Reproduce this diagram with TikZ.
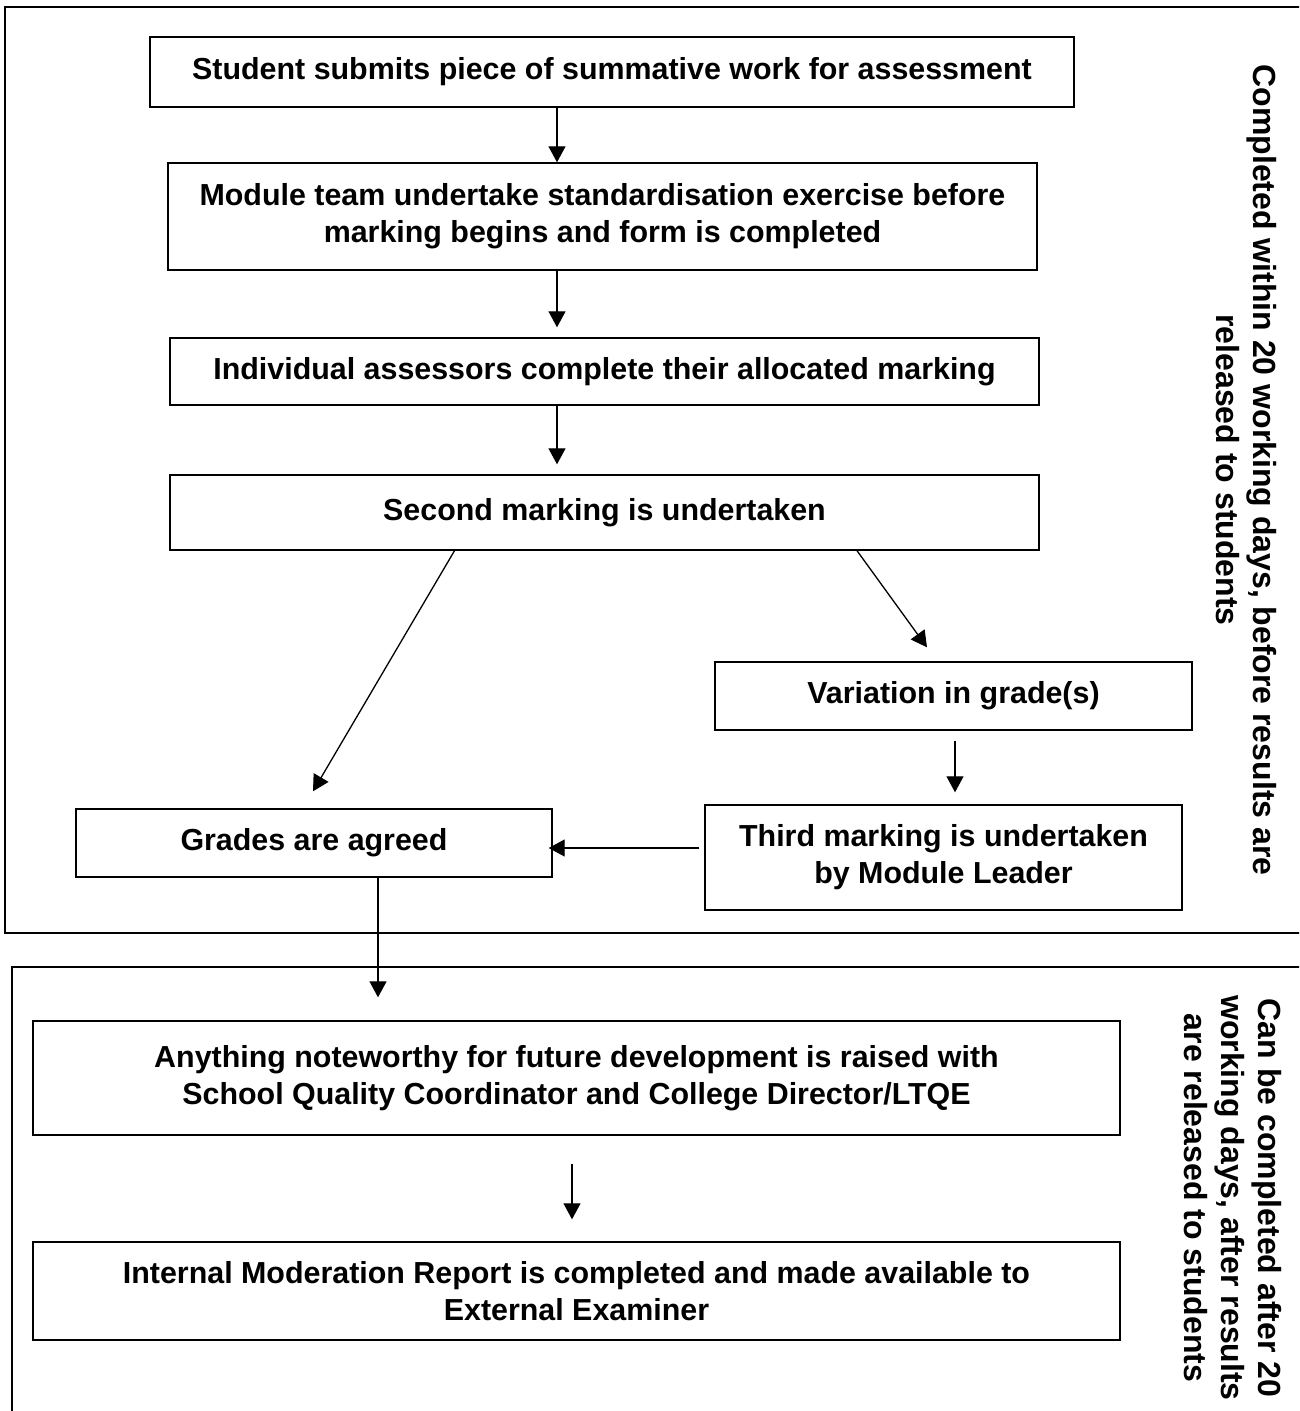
\documentclass[tikz,border=0pt]{standalone}
\usepackage{fontspec}
\setmainfont{Liberation Sans}
\usetikzlibrary{arrows.meta,calc}

\tikzset{
  box/.style={draw, line width=0.7pt, font=\fontsize{15.2}{18.5}\selectfont\bfseries, align=center, inner sep=0pt},
  arr/.style={-{Triangle[length=8pt,width=8.5pt]}, line width=0.65pt},
  side/.style={rotate=-90, font=\fontsize{16}{18.5}\selectfont\bfseries, align=center}
}

\begin{document}
\begin{tikzpicture}[x=0.5pt,y=-0.5pt]
  \clip (0,0) rectangle (1299,1411);
  % rahmen
  \draw[line width=0.7pt] (5,7) rectangle (1330,933);
  \draw[line width=0.7pt] (12,967) rectangle (1330,1440);
  % kaesten
  \node[box, minimum width=462pt, minimum height=35pt] (submit) at (612,72) {Student submits piece of summative work for assessment};
  \node[box, minimum width=434.5pt, minimum height=53.5pt] (standard) at (602.5,216.5) {Module team undertake standardisation exercise before\\marking begins and form is completed};
  \node[box, minimum width=434.5pt, minimum height=33.5pt] (assess) at (604.5,371.5) {Individual assessors complete their allocated marking};
  \node[box, minimum width=434.5pt, minimum height=37.5pt] (second) at (604.5,512.5) {Second marking is undertaken};
  \node[box, minimum width=238.5pt, minimum height=34pt] (variation) at (953.5,696) {Variation in grade(s)};
  \node[box, minimum width=238.5pt, minimum height=52.5pt] (third) at (943.5,857.5) {Third marking is undertaken\\by Module Leader};
  \node[box, minimum width=238pt, minimum height=34pt] (agreed) at (314,843) {Grades are agreed};
  \node[box, minimum width=543.5pt, minimum height=57pt] (noteworthy) at (576.5,1078) {Anything noteworthy for future development is raised with\\School Quality Coordinator and College Director/LTQE};
  \node[box, minimum width=543.5pt, minimum height=49pt] (report) at (576.5,1291) {Internal Moderation Report is completed and made available to\\External Examiner};
  % seitentexte
  \node[side] (sidetop) at (1246,470) {Completed within 20 working days, before results are\\released to students};
  \node[side] (sidebottom) at (1233,1198) {Can be completed after 20\\working days, after results\\are released to students};
  % pfeile
  \draw[arr] ($(submit.south)+(-55,0)$) -- ($(standard.north)+(-45.5,0)$);
  \draw[arr, shorten >=5pt] ($(standard.south)+(-45.5,0)$) -- ($(assess.north)+(-47.5,0)$);
  \draw[arr, shorten >=5pt] ($(assess.south)+(-47.5,0)$) -- ($(second.north)+(-47.5,0)$);
  \draw[arr] ($(second.south)+(-150,0)$) -- ($(agreed.north)+(-1,-17)$);
  \draw[arr] ($(second.south)+(252.5,0)$) -- ($(variation.north)+(-26.5,-14)$);
  \draw[arr, shorten <=5pt, shorten >=6pt] ($(variation.south)+(1.5,0)$) -- ($(third.north)+(11.5,0)$);
  \draw[arr] ($(third.west)+(-5,-9.5)$) -- ($(agreed.east)+(-4,5)$);
  \draw[arr, shorten >=11.5pt] ($(agreed.south)+(64,0)$) -- ($(noteworthy.north)+(-198.5,0)$);
  \draw[arr, shorten <=14pt, shorten >=11pt] ($(noteworthy.south)+(-4.5,0)$) -- ($(report.north)+(-4.5,0)$);
\end{tikzpicture}
\end{document}
